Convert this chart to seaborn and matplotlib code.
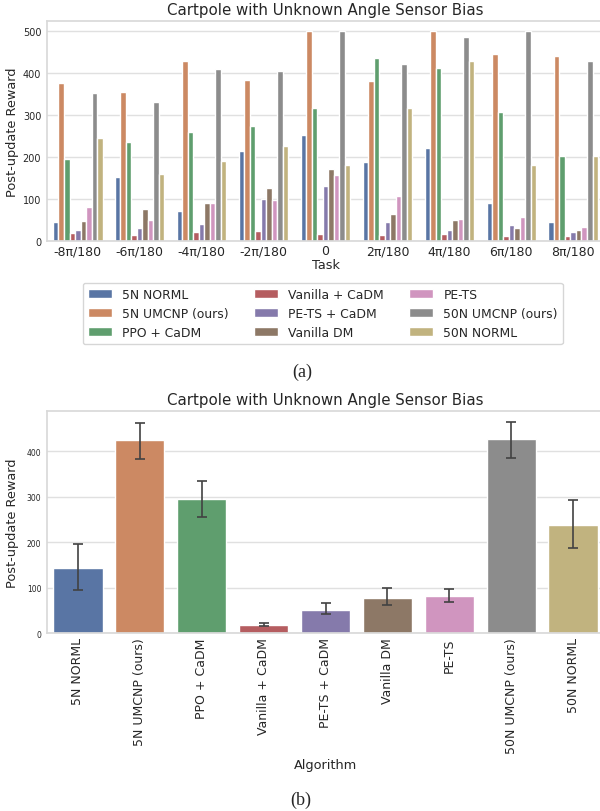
import pandas as pd
import numpy as np
import matplotlib
matplotlib.use("Agg")
import matplotlib.pyplot as plt
import seaborn as sns

# ---------------------------------------------------------
# data
# ---------------------------------------------------------
tasks = ["-8π/180", "-6π/180", "-4π/180", "-2π/180", "0",
         "2π/180", "4π/180", "6π/180", "8π/180"]

algorithms = ["5N NORML", "5N UMCNP (ours)", "PPO + CaDM", "Vanilla + CaDM",
              "PE-TS + CaDM", "Vanilla DM", "PE-TS", "50N UMCNP (ours)", "50N NORML"]

norml_5n = [47, 154, 73, 216, 252, 189, 222, 90, 46]
umcnp_5n = [376, 356, 430, 384, 500, 382, 500, 446, 440]
ppo_cadm = [196, 237, 261, 275, 318, 437, 412, 308, 203]
vanilla_cadm = [19, 15, 22, 24, 17, 15, 17, 13, 12]
pets_cadm = [26, 32, 42, 100, 131, 45, 28, 38, 22]
vanilla_dm = [49, 77, 91, 126, 173, 65, 50, 32, 28]
pets = [81, 50, 91, 98, 157, 107, 53, 58, 35]
umcnp_50n = [353, 331, 411, 406, 500, 421, 486, 500, 429]
norml_50n = [247, 159, 192, 226, 182, 318, 430, 181, 203]

rewards = [norml_5n, umcnp_5n, ppo_cadm, vanilla_cadm, pets_cadm,
           vanilla_dm, pets, umcnp_50n, norml_50n]

# error bar ends of the summary plot (b)
err_low = [95, 382, 255, 15, 41, 62, 68, 386, 186]
err_high = [196, 461, 335, 21, 65, 98, 96, 465, 293]

rows = []
for algo, vals in zip(algorithms, rewards):
    for task, v in zip(tasks, vals):
        rows.append({"Task": task, "Algorithm": algo, "Post-update Reward": v})
df = pd.DataFrame(rows)

# ---------------------------------------------------------
# figure
# ---------------------------------------------------------
sns.set_theme(style="whitegrid", palette="deep",
              rc={"grid.color": ".88", "axes.edgecolor": ".85"})
plt.rcParams["font.family"] = ["DejaVu Sans"]

fig = plt.figure(figsize=(6, 8.12), dpi=100)
ax1 = fig.add_axes([0.078, 0.7016, 0.929, 0.2717])
ax2 = fig.add_axes([0.078, 0.2192, 0.929, 0.2734])

title = "Cartpole with Unknown Angle Sensor Bias"

# (a) per-task grouped bars
sns.barplot(data=df, x="Task", y="Post-update Reward", hue="Algorithm",
            hue_order=algorithms, order=tasks, errorbar=None, ax=ax1)
ax1.set_title(title, fontsize=10.8, pad=5)
ax1.set_xlabel("Task", fontsize=9.3, labelpad=1)
ax1.set_ylabel("Post-update Reward", fontsize=9.3)
ax1.yaxis.set_label_coords(-0.049, 0.5)
ax1.tick_params(axis="x", labelsize=9, pad=2, length=0)
ax1.tick_params(axis="y", labelsize=7, pad=4, length=0)
sns.move_legend(ax1, "upper center", bbox_to_anchor=(0.495, -0.16), ncol=3,
                title=None, frameon=True, fontsize=8.9)

# (b) mean over tasks with error bars
means = df.groupby("Algorithm", sort=False)["Post-update Reward"].mean().reindex(algorithms)
sns.barplot(data=df, x="Algorithm", y="Post-update Reward", hue="Algorithm",
            order=algorithms, hue_order=algorithms, legend=False,
            errorbar=None, ax=ax2)
xpos = np.arange(len(algorithms))
ax2.errorbar(xpos, means.values,
             yerr=[means.values - np.array(err_low), np.array(err_high) - means.values],
             fmt="none", ecolor=".26", elinewidth=1.2, capsize=3.3, capthick=1.2)
ax2.set_xlim(-0.5, len(algorithms) - 0.5)
ax2.set_title(title, fontsize=10.8, pad=5)
ax2.set_xlabel("Algorithm", fontsize=9.3)
ax2.set_ylabel("Post-update Reward", fontsize=9.3)
ax2.yaxis.set_label_coords(-0.049, 0.5)
ax2.tick_params(axis="x", labelsize=9, rotation=90, pad=3, length=0)
ax2.tick_params(axis="y", labelsize=5.5, pad=4, length=0)

fig.text(0.503, 1 - 372 / 812, "(a)", family="Liberation Serif", fontsize=13,
         ha="center", va="center")
fig.text(0.502, 1 - 800 / 812, "(b)", family="Liberation Serif", fontsize=13,
         ha="center", va="center")

fig.savefig("out.png", dpi=100)
